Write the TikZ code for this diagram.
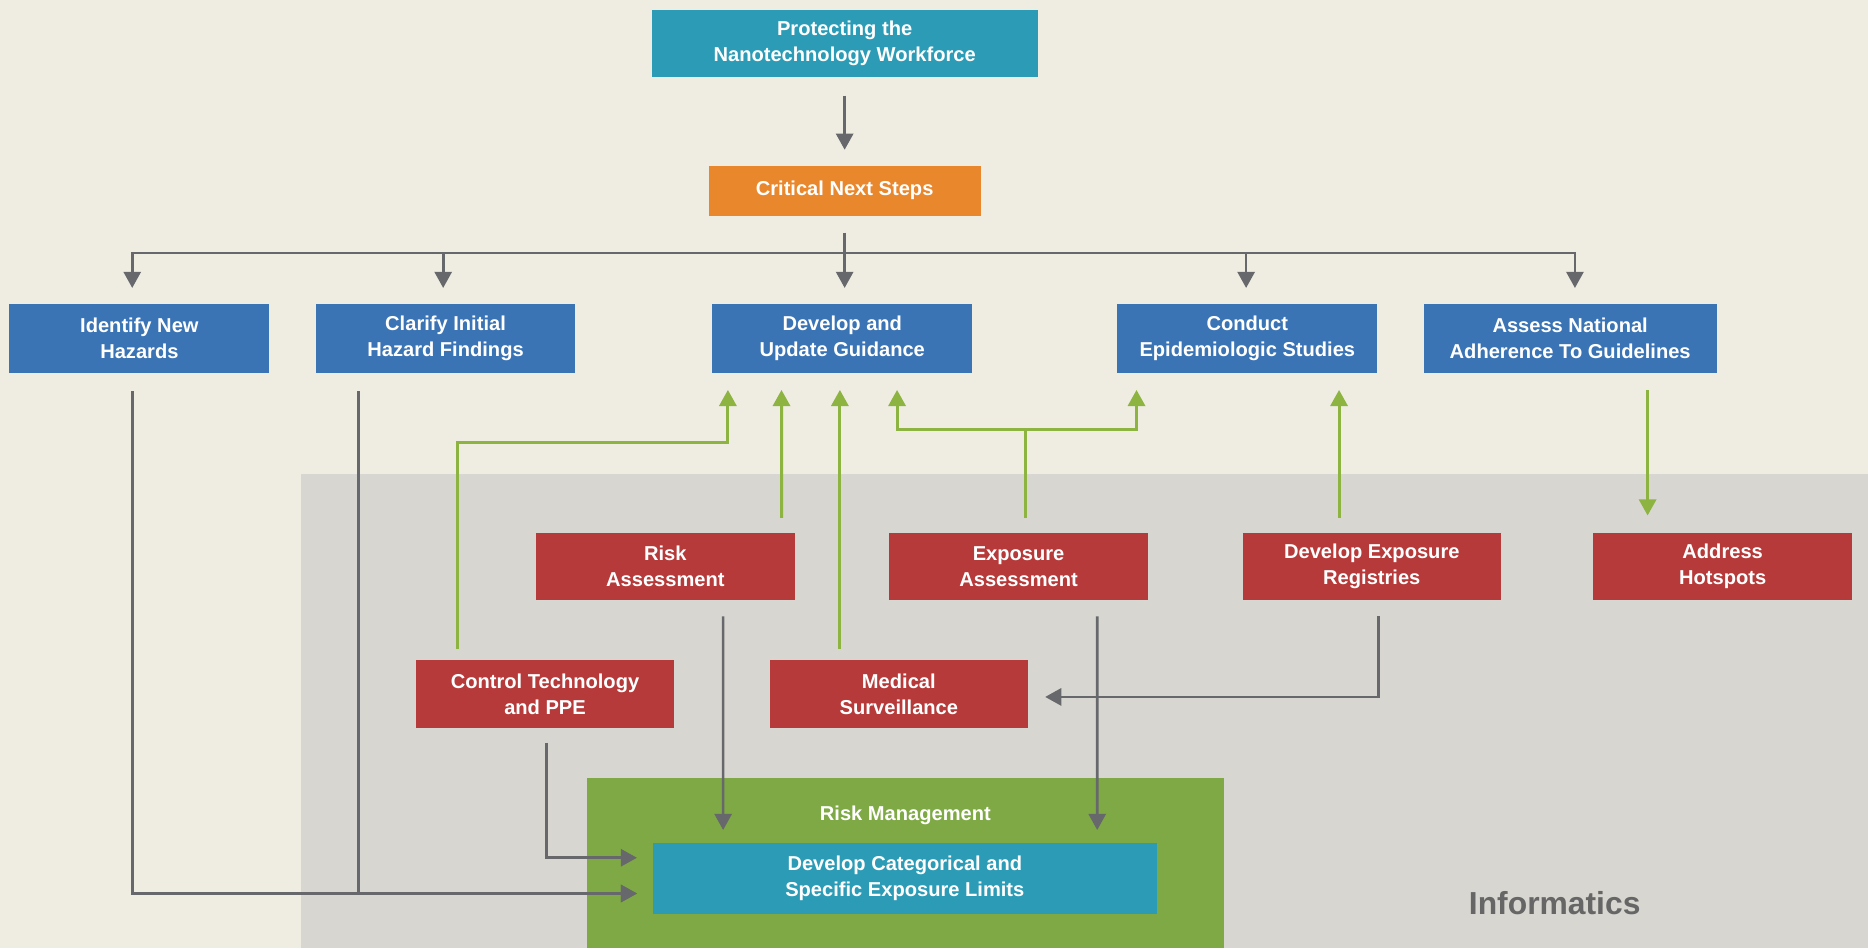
\documentclass[tikz,border=0pt]{standalone}
\usepackage{fontspec}
\setmainfont{Liberation Sans}
\usetikzlibrary{arrows.meta,calc}
\definecolor{bgc}{HTML}{EFEDE2}
\definecolor{grayreg}{HTML}{D8D6D0}
\definecolor{tealc}{HTML}{2C9CB6}
\definecolor{orangec}{HTML}{E9872C}
\definecolor{bluec}{HTML}{3A74B5}
\definecolor{redc}{HTML}{B73A3A}
\definecolor{greenbox}{HTML}{7FA944}
\definecolor{greenarr}{HTML}{8DB440}
\definecolor{grayarr}{HTML}{66686B}
\definecolor{infogray}{HTML}{666666}
\begin{document}
\begin{tikzpicture}[x=0.025cm,y=-0.025cm,
  box/.style={rectangle,inner sep=0pt,text=white,align=center,
    font=\fontsize{12}{15.6}\selectfont\bfseries},
  bluebox/.style={box,fill=bluec,minimum width=5.45cm,minimum height=1.45cm},
  redbox/.style={box,fill=redc,minimum width=5.425cm,minimum height=1.425cm},
  tip/.style={-{Triangle[width=0.36cm,length=0.34cm]}},
  gline/.style={draw=grayarr,line width=1.6pt},
  garr/.style={gline,tip},
  grline/.style={draw=greenarr,line width=1.8pt},
  grarr/.style={grline,tip}]
\useasboundingbox (0,0) rectangle (1568,796);
\fill[bgc] (0,0) rectangle (1568,796);
\fill[grayreg] (253,398) rectangle (1568,796);

% top
\node[box,fill=tealc,minimum width=8.1cm,minimum height=1.425cm] (top) at (709,36.5) {Protecting the\\Nanotechnology Workforce};
\node[box,fill=orangec,minimum width=5.7cm,minimum height=1.05cm] (cns) at (709,160) {Critical Next Steps};

% row 1
\node[bluebox] (idn) at (117,284) {Identify New\\Hazards};
\node[bluebox] (cla) at (374,284) {Clarify Initial\\Hazard Findings};
\node[bluebox] (dug) at (707,284) {Develop and\\Update Guidance};
\node[bluebox] (ces) at (1047,284) {Conduct\\Epidemiologic Studies};
\node[bluebox,minimum width=6.15cm] (ana) at (1318,284) {Assess National\\Adherence To Guidelines};

% row 2
\node[redbox] (ra) at (558.5,475.5) {Risk\\Assessment};
\node[redbox] (ea) at (855,475.5) {Exposure\\Assessment};
\node[redbox] (der) at (1151.5,475.5) {Develop Exposure\\Registries};
\node[redbox] (ah) at (1446,475.5) {Address\\Hotspots};

% row 3
\node[redbox] (ct) at (457.5,582.5) {Control Technology\\and PPE};
\node[redbox] (ms) at (754.5,582.5) {Medical\\Surveillance};

% risk management
\node[rectangle,fill=greenbox,inner sep=0pt,minimum width=13.35cm,minimum height=3.575cm] (rm) at (760,724.5) {};
\node[box] (rmlabel) at (760,684) {Risk Management};
\node[box,fill=tealc,minimum width=10.575cm,minimum height=1.475cm] (dcl) at (759.5,737.5) {Develop Categorical and\\Specific Exposure Limits};

\node[font=\fontsize{19}{22}\selectfont\bfseries,text=infogray] (inf) at (1305,758) {Informatics};

% gray arrows top
\draw[garr] ($(top.south)+(0,15)$) -- ($(cns.north)+(0,-13)$);
\coordinate (bus) at ($(cns.south)+(0,31)$);
\draw[garr] ($(cns.south)+(0,14)$) -- ($(dug.north)+(2,-13)$);
\draw[garr] (bus) -| ($(idn.north)+(-6,-13)$);
\draw[garr] (bus) -| ($(cla.north)+(-2,-13)$);
\draw[garr] (bus) -| ($(ces.north)+(-1,-13)$);
\draw[garr] (bus) -| ($(ana.north)+(4,-13)$);

% green arrows
\draw[grarr] ($(ct.north)+(-73.5,-9)$) |- ($(dug.south)+(-96,58)$) -- ($(dug.south)+(-96,14)$);
\draw[grarr] ($(ra.north)+(97.5,-12)$) -- ($(dug.south)+(-51,14)$);
\draw[grarr] ($(ms.north)+(-49.5,-9)$) -- ($(dug.south)+(-2,14)$);
\coordinate (ej) at ($(ea.north)+(6,-86)$);
\draw[grline] ($(ea.north)+(6,-12)$) -- (ej);
\draw[grarr] (ej) -| ($(dug.south)+(46,14)$);
\draw[grarr] (ej) -| ($(ces.south)+(-93,14)$);
\draw[grarr] ($(der.north)+(-27.5,-12)$) -- ($(ces.south)+(77,14)$);
\draw[grarr] ($(ana.south)+(65,14)$) -- ($(ah.north)+(-63,-14)$);

% gray lower arrows
\draw[garr] ($(der.south)+(5.5,13)$) |- ($(ms.east)+(14,2.5)$);
\draw[garr] ($(ra.south)+(48.5,13)$) -- ($(dcl.north)+(-152.5,-11)$);
\draw[garr] ($(ea.south)+(66,13)$) -- ($(dcl.north)+(161.5,-11)$);
\draw[garr] ($(ct.south)+(1.5,12)$) |- ($(dcl.west)+(-13,-17.5)$);
\draw[garr] ($(idn.south)+(-6,15)$) |- ($(dcl.west)+(-13,12.5)$);
\draw[garr] ($(cla.south)+(-73,15)$) |- ($(dcl.west)+(-13,12.5)$);
\end{tikzpicture}
\end{document}
